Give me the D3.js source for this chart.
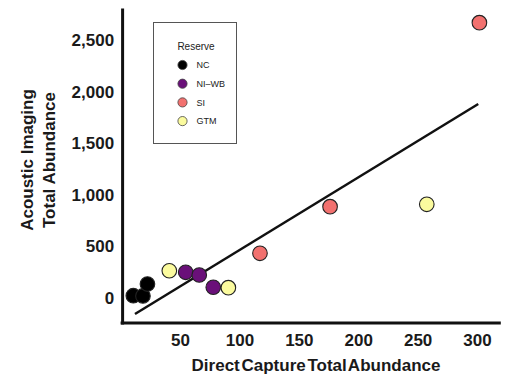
<!DOCTYPE html>
<html>
<head>
<meta charset="utf-8">
<script src="https://cdn.jsdelivr.net/npm/d3@7"></script>
<style>
  html, body { margin: 0; padding: 0; background: #fff; }
  svg { display: block; font-family: "Liberation Sans", Arial, sans-serif; }
</style>
</head>
<body>
<svg id="chart" width="508" height="377"></svg>
<script>
// ---- Data ----
const reserves = ["NC", "NI\u2013WB", "SI", "GTM"];
const reserveColors = ["#000000", "#6a1079", "#f2716f", "#fbfb9e"];
const pointReserve = ["NC", "NC", "NC", "GTM", "NI\u2013WB", "NI\u2013WB", "NI\u2013WB", "GTM", "SI", "SI", "GTM", "SI"];
const directCapture = [10.7, 18.8, 22.6, 41, 54.8, 66.2, 78, 90.7, 117.3, 176.3, 257.7, 302];
const acousticImaging = [22, 20, 135, 264, 249, 223, 104, 100, 433, 885, 908, 2668];
const fitX = [12.1, 301];
const fitY = [-155, 1880];
const xTicks = [50, 100, 150, 200, 250, 300];
const yTicks = [0, 500, 1000, 1500, 2000, 2500];

// ---- Layout ----
const svg = d3.select("#chart");
const x = d3.scaleLinear().domain([0, 320]).range([120.6, 500.8]);
const y = d3.scaleLinear().domain([-252, 2810]).range([324, 8]);
const color = d3.scaleOrdinal().domain(reserves).range(reserveColors);

// Y axis
const yAxis = svg.append("g")
  .attr("transform", `translate(${x(0) + 1.5},0)`)
  .call(d3.axisLeft(y).tickValues(yTicks).tickFormat(d3.format(",")).tickSize(0).tickSizeOuter(0).tickPadding(8));
yAxis.select(".domain").attr("stroke", "#111").attr("stroke-width", 3);
yAxis.selectAll(".tick text")
  .attr("font-family", "Liberation Sans, Arial, sans-serif")
  .attr("font-size", 17).attr("font-weight", "bold").attr("fill", "#1a1a1a");

// X axis
const xAxis = svg.append("g")
  .attr("transform", `translate(0,${y(-252) - 1})`)
  .call(d3.axisBottom(x).tickValues(xTicks).tickSize(0).tickSizeOuter(0).tickPadding(11));
xAxis.select(".domain").attr("stroke", "#111").attr("stroke-width", 3)
  .attr("d", `M${x(0)},0H${x(320)}`);
xAxis.selectAll(".tick text")
  .attr("font-family", "Liberation Sans, Arial, sans-serif")
  .attr("font-size", 17).attr("font-weight", "bold").attr("fill", "#1a1a1a");

// Axis titles
svg.append("text")
  .attr("x", 316).attr("y", 371)
  .attr("text-anchor", "middle")
  .attr("font-size", 17).attr("font-weight", "bold").attr("fill", "#1a1a1a")
  .attr("word-spacing", -3)
  .text("Direct Capture Total Abundance");

const yTitle = svg.append("text")
  .attr("transform", "translate(0,160) rotate(-90)")
  .attr("text-anchor", "middle")
  .attr("font-size", 17).attr("font-weight", "bold").attr("fill", "#1a1a1a");
yTitle.append("tspan").attr("x", 0).attr("y", 33).text("Acoustic Imaging");
yTitle.append("tspan").attr("x", 0).attr("y", 55).text("Total Abundance");

// Regression line
svg.append("line")
  .attr("x1", x(fitX[0])).attr("y1", y(fitY[0]))
  .attr("x2", x(fitX[1])).attr("y2", y(fitY[1]))
  .attr("stroke", "#111").attr("stroke-width", 2.5);

// Points
svg.append("g").selectAll("circle")
  .data(directCapture.map((d, i) => ({ x: d, y: acousticImaging[i], r: pointReserve[i] })))
  .join("circle")
  .attr("cx", d => x(d.x))
  .attr("cy", d => y(d.y))
  .attr("r", 7.3)
  .attr("fill", d => color(d.r))
  .attr("stroke", "#222")
  .attr("stroke-width", 1.1);

// Legend
const lg = svg.append("g");
lg.append("rect")
  .attr("x", 153.5).attr("y", 22.5).attr("width", 83).attr("height", 121)
  .attr("fill", "#fff").attr("stroke", "#555").attr("stroke-width", 1);
lg.append("text")
  .attr("x", 196).attr("y", 50)
  .attr("text-anchor", "middle")
  .attr("font-size", 10).attr("fill", "#222")
  .text("Reserve");
const items = lg.selectAll("g.item").data(reserves).join("g")
  .attr("class", "item")
  .attr("transform", (d, i) => `translate(182.5,${65 + i * 18.7})`);
items.append("circle")
  .attr("r", 4.6)
  .attr("fill", d => color(d))
  .attr("stroke", "#444").attr("stroke-width", 0.8);
items.append("text")
  .attr("x", 14).attr("dy", "0.35em")
  .attr("font-size", 9).attr("fill", "#222")
  .text(d => d);
</script>
</body>
</html>
